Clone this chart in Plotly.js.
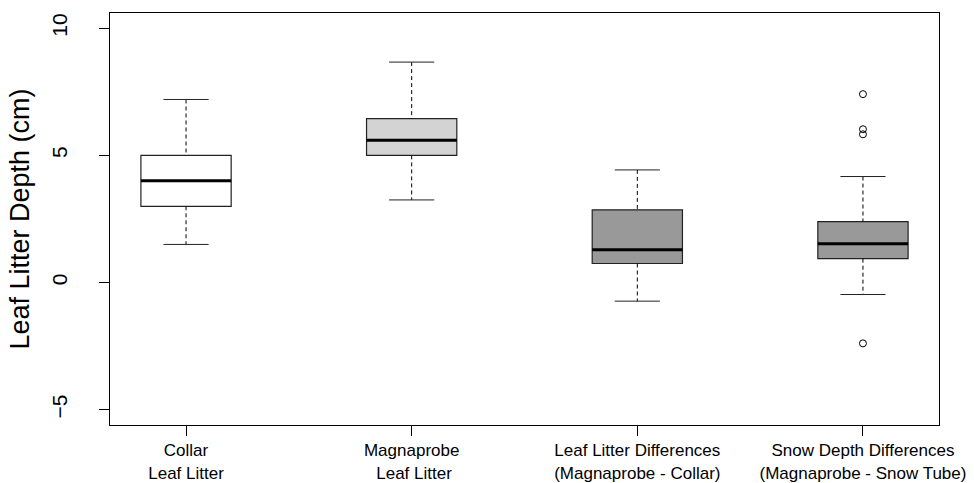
<!DOCTYPE html>
<html>
<head>
<meta charset="utf-8">
<script src="https://cdn.plot.ly/plotly-3.0.1.min.js"></script>
<style>html,body{margin:0;padding:0;background:#fff;}#chart{width:974px;height:483px;}</style>
</head>
<body>
<div id="chart"></div>
<script>
// Categories (tick labels)
const categories = [
  "Collar<br>Leaf Litter",
  "Magnaprobe<br> Leaf Litter",
  "Leaf Litter Differences<br>(Magnaprobe - Collar)",
  "Snow Depth Differences<br>(Magnaprobe - Snow Tube)"
];
// Box statistics
const lowerWhisker = [1.5, 3.25, -0.73, -0.47];
const q1 = [3.0, 5.0, 0.75, 0.94];
const median = [4.0, 5.6, 1.29, 1.53];
const q3 = [5.0, 6.45, 2.86, 2.40];
const upperWhisker = [7.2, 8.67, 4.43, 4.17];
// Outliers (group index, value)
const outlierGroup = [3, 3, 3, 3];
const outlierValue = [7.41, 6.03, 5.83, -2.39];
const yTicks = [-5, 0, 5, 10];
const fills = ["#ffffff", "#d3d3d3", "#999999", "#999999"];

const boxHalf = 0.2, capHalf = 0.1;
const traces = [];
const pos = categories.map((_, i) => i);

// dashed whiskers
const wx = [], wy = [];
pos.forEach((p, i) => {
  wx.push(p, p, null, p, p, null);
  wy.push(upperWhisker[i], q3[i], null, q1[i], lowerWhisker[i], null);
});
traces.push({type: "scatter", mode: "lines", x: wx, y: wy, line: {color: "#000", width: 1, dash: "4px,3px"}, hoverinfo: "skip", showlegend: false});

// caps
const cx = [], cy = [];
pos.forEach((p, i) => {
  cx.push(p - capHalf, p + capHalf, null, p - capHalf, p + capHalf, null);
  cy.push(upperWhisker[i], upperWhisker[i], null, lowerWhisker[i], lowerWhisker[i], null);
});
traces.push({type: "scatter", mode: "lines", x: cx, y: cy, line: {color: "#222", width: 1}, hoverinfo: "skip", showlegend: false});

// boxes (whiskers drawn separately)
pos.forEach((p, i) => {
  traces.push({
    type: "box", x: [p], q1: [q1[i]], median: [median[i]], q3: [q3[i]],
    lowerfence: [q1[i]], upperfence: [q3[i]], width: 2 * boxHalf,
    fillcolor: fills[i], line: {color: "#222", width: 1.2}, whiskerwidth: 0,
    boxpoints: false, showlegend: false, hoverinfo: "skip"
  });
});

// thick medians
const mx = [], my = [];
pos.forEach((p, i) => {
  mx.push(p - boxHalf, p + boxHalf, null);
  my.push(median[i], median[i], null);
});
traces.push({type: "scatter", mode: "lines", x: mx, y: my, line: {color: "#000", width: 3}, hoverinfo: "skip", showlegend: false});

// outliers
traces.push({type: "scatter", mode: "markers", x: outlierGroup, y: outlierValue,
  marker: {symbol: "circle-open", size: 7, color: "#000", line: {width: 1, color: "#000"}}, showlegend: false, hoverinfo: "skip"});

const layout = {
  width: 974, height: 483,
  margin: {l: 110, r: 35, t: 13, b: 58},
  paper_bgcolor: "#fff", plot_bgcolor: "#fff",
  font: {family: "Liberation Sans, Arial, sans-serif", color: "#000"},
  showlegend: false,
  xaxis: {
    range: [-0.337, 3.337], tickvals: pos, ticktext: categories,
    showgrid: false, zeroline: false, showline: true, mirror: true, linecolor: "#000", linewidth: 1,
    ticks: "outside", ticklen: 10, tickcolor: "#000", tickfont: {size: 17}, automargin: false
  },
  yaxis: {
    range: [-5.6, 10.6], tickvals: yTicks, tickangle: -90,
    showgrid: false, zeroline: false, showline: true, mirror: true, linecolor: "#000", linewidth: 1,
    ticks: "outside", ticklen: 10, tickcolor: "#000", tickfont: {size: 21}, ticklabelstandoff: 24,
    automargin: false,
    title: {text: "Leaf Litter Depth (cm)", font: {size: 27}, standoff: 10}
  }
};
Plotly.newPlot("chart", traces, layout, {staticPlot: true});
</script>
</body>
</html>
